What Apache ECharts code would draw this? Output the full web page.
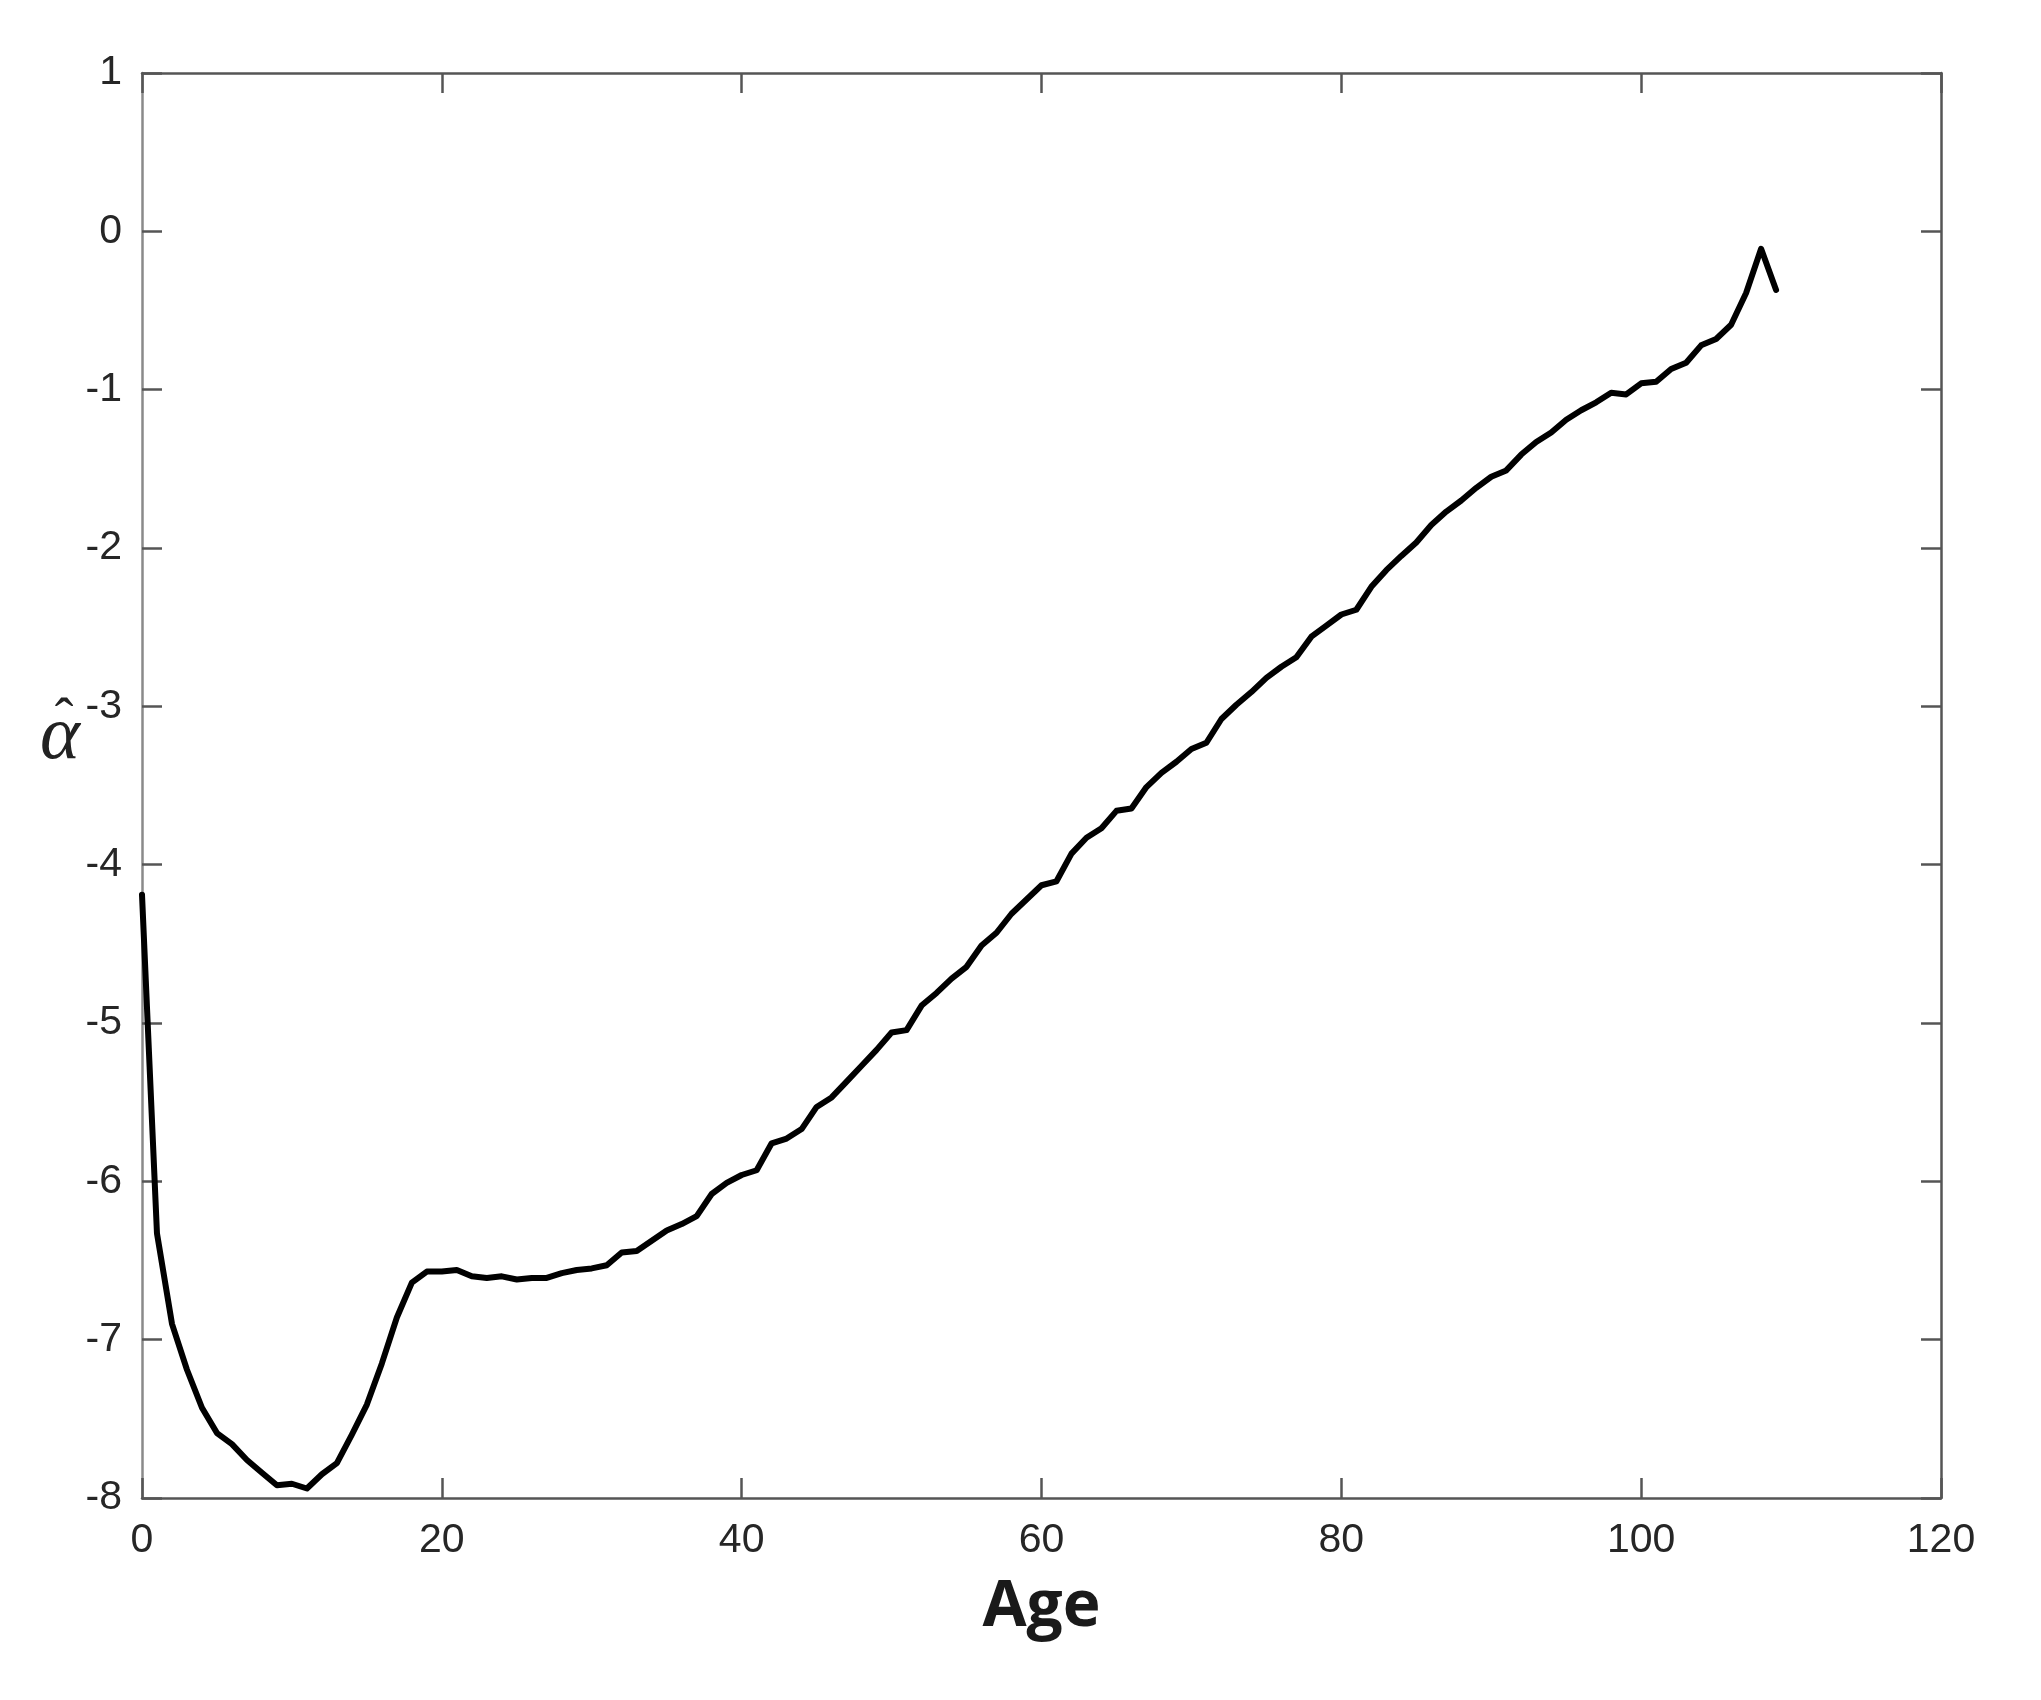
<!DOCTYPE html>
<html>
<head>
<meta charset="utf-8">
<script src="https://cdn.jsdelivr.net/npm/echarts@6/dist/echarts.min.js"></script>
<style>
html,body{margin:0;padding:0;background:#fff;}
#chart{width:2041px;height:1700px;}
</style>
</head>
<body>
<div id="chart"></div>
<script>
const ages = [0,1,2,3,4,5,6,7,8,9,10,11,12,13,14,15,16,17,18,19,
  20,21,22,23,24,25,26,27,28,29,30,31,32,33,34,35,36,37,38,39,
  40,41,42,43,44,45,46,47,48,49,50,51,52,53,54,55,56,57,58,59,
  60,61,62,63,64,65,66,67,68,69,70,71,72,73,74,75,76,77,78,79,
  80,81,82,83,84,85,86,87,88,89,90,91,92,93,94,95,96,97,98,99,
  100,101,102,103,104,105,106,107,108,109];
const alphaHat = [-4.19,-6.33,-6.90,-7.19,-7.43,-7.59,-7.66,-7.76,-7.84,-7.92,
  -7.91,-7.94,-7.85,-7.78,-7.60,-7.41,-7.15,-6.86,-6.64,-6.57,
  -6.57,-6.56,-6.60,-6.61,-6.60,-6.62,-6.61,-6.61,-6.58,-6.56,
  -6.55,-6.53,-6.45,-6.44,-6.375,-6.31,-6.27,-6.22,-6.08,-6.01,
  -5.96,-5.93,-5.76,-5.73,-5.67,-5.53,-5.47,-5.37,-5.27,-5.17,
  -5.06,-5.045,-4.89,-4.81,-4.72,-4.645,-4.51,-4.43,-4.31,-4.22,
  -4.13,-4.105,-3.93,-3.83,-3.77,-3.66,-3.645,-3.51,-3.42,-3.35,
  -3.27,-3.23,-3.08,-2.99,-2.91,-2.82,-2.75,-2.69,-2.56,-2.49,
  -2.42,-2.39,-2.245,-2.14,-2.05,-1.965,-1.855,-1.77,-1.70,-1.62,
  -1.55,-1.51,-1.41,-1.33,-1.27,-1.19,-1.13,-1.08,-1.02,-1.03,
  -0.96,-0.95,-0.87,-0.83,-0.72,-0.68,-0.59,-0.39,-0.11,-0.37];
const xTicks = {min: 0, max: 120, interval: 20};
const yTicks = {min: -8, max: 1, interval: 1};
const xName = 'Age';
const yNameLetter = 'α';
const yNameHat = 'ˆ';

const chart = echarts.init(document.getElementById('chart'), null, {renderer: 'canvas'});
const axisColor = '#555';
const labelStyle = {fontSize: 41, color: '#262626', fontFamily: '"Liberation Sans", Arial, sans-serif'};
function xAx(pos, showLabel) {
  return {
    type: 'value', position: pos, min: xTicks.min, max: xTicks.max, interval: xTicks.interval,
    axisLine: {show: true, onZero: false, lineStyle: {color: axisColor, width: 2.5}},
    axisTick: {show: true, inside: true, length: 20, lineStyle: {color: axisColor, width: 2.5}},
    axisLabel: Object.assign({show: showLabel, margin: 22}, labelStyle),
    splitLine: {show: false}
  };
}
function yAx(pos, showLabel) {
  return {
    type: 'value', position: pos, min: yTicks.min, max: yTicks.max, interval: yTicks.interval,
    axisLine: {show: true, onZero: false, lineStyle: {color: pos === 'left' ? '#8a8a8a' : axisColor, width: 2.5}},
    axisTick: {show: true, inside: true, length: 20, lineStyle: {color: axisColor, width: 2.5}},
    axisLabel: Object.assign({show: showLabel, margin: 20}, labelStyle),
    splitLine: {show: false}
  };
}
const bottomX = xAx('bottom', true);
bottomX.name = xName;
bottomX.nameLocation = 'middle';
bottomX.nameGap = 78;
bottomX.nameTextStyle = {fontSize: 64, fontWeight: 'bold', color: '#1a1a1a', fontFamily: '"Open Sans", "DejaVu Sans", sans-serif'};

chart.setOption({
  backgroundColor: '#ffffff',
  animation: false,
  grid: {left: 142, top: 73, right: 100, bottom: 202, containLabel: false},
  xAxis: [bottomX, xAx('top', false)],
  yAxis: [yAx('left', true), yAx('right', false)],
  graphic: [{
    type: 'text', x: 60, y: 738,
    style: {text: yNameLetter, font: 'italic 76px "Liberation Serif", "DejaVu Serif", serif', fill: '#222',
      textAlign: 'center', textVerticalAlign: 'middle'}
  }, {
    type: 'text', x: 64, y: 722,
    style: {text: yNameHat, font: '56px "Liberation Serif", "DejaVu Serif", serif', fill: '#222',
      textAlign: 'center', textVerticalAlign: 'middle'}
  }],
  series: [{
    type: 'line', xAxisIndex: 0, yAxisIndex: 0,
    data: ages.map((a, i) => [a, alphaHat[i]]),
    symbol: 'none', smooth: false,
    lineStyle: {color: '#000', width: 6, join: 'round', cap: 'round'}
  }]
});
</script>
</body>
</html>
